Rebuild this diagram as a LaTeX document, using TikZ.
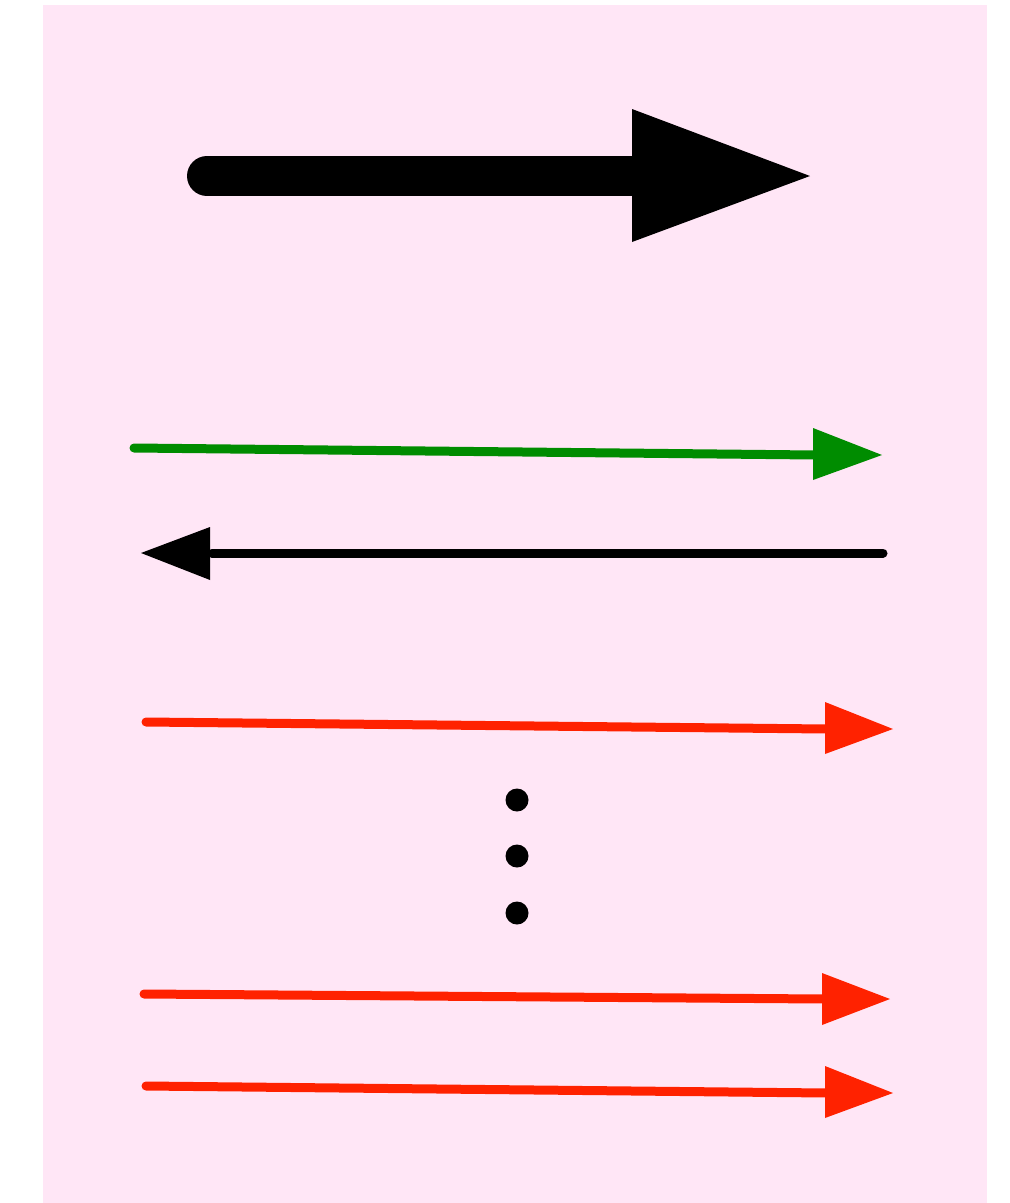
\documentclass[tikz,border=0pt]{standalone}
\definecolor{bgpink}{HTML}{FFE6F6}
\definecolor{arrgreen}{HTML}{008C00}
\definecolor{arrred}{HTML}{FF2200}
\tikzset{
  shaft/.style={line width=#1, line cap=round},
  headfill/.style={fill=#1, draw=none},
  dotmark/.style={circle, fill=black, inner sep=0pt, minimum size=23pt},
}
\begin{document}
\begin{tikzpicture}[x=1pt, y=-1pt]
  % canvas and pink panel
  \useasboundingbox (0,0) rectangle (1010,1203);
  \fill[bgpink] (43,5) rectangle (987,1203);

  % large black arrow
  \coordinate (bigS) at (207,176);
  \coordinate (bigB) at (632,176);
  \draw[shaft=40pt] (bigS) -- (bigB);
  \fill[headfill=black] (632,109) -- (810,176) -- (632,242) -- cycle;

  % green arrow pointing right
  \coordinate (gS) at (134,448);
  \coordinate (gB) at (815,455);
  \draw[shaft=9pt, arrgreen] (gS) -- (gB);
  \fill[headfill=arrgreen] (813,428) -- (882,455) -- (813,480) -- cycle;

  % black arrow pointing left
  \coordinate (kS) at (883,553);
  \coordinate (kB) at (212,553);
  \draw[shaft=9pt] (kS) -- (kB);
  \fill[headfill=black] (210,527) -- (141,553) -- (210,580) -- cycle;

  % first red arrow
  \coordinate (r1S) at (146,722);
  \coordinate (r1B) at (827,729);
  \draw[shaft=9pt, arrred] (r1S) -- (r1B);
  \fill[headfill=arrred] (825,702) -- (893,729) -- (825,754) -- cycle;

  % vertical ellipsis
  \node[dotmark] (d1) at (517,800) {};
  \node[dotmark] (d2) at (517,856) {};
  \node[dotmark] (d3) at (517,913) {};

  % second red arrow
  \coordinate (r2S) at (144,994);
  \coordinate (r2B) at (824,999);
  \draw[shaft=9pt, arrred] (r2S) -- (r2B);
  \fill[headfill=arrred] (822,973) -- (890,999) -- (822,1025) -- cycle;

  % third red arrow
  \coordinate (r3S) at (146,1086);
  \coordinate (r3B) at (827,1093);
  \draw[shaft=9pt, arrred] (r3S) -- (r3B);
  \fill[headfill=arrred] (825,1066) -- (893,1093) -- (825,1118) -- cycle;
\end{tikzpicture}
\end{document}
